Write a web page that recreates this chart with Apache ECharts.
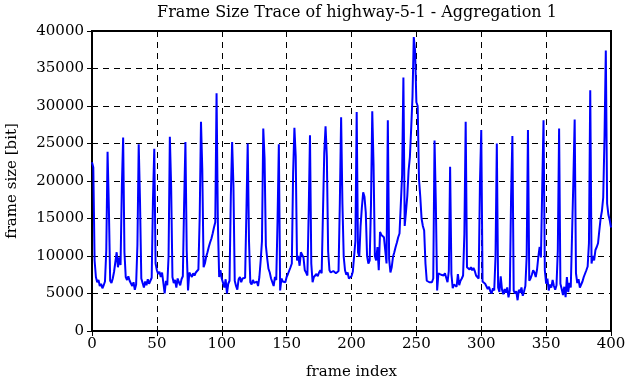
<!DOCTYPE html>
<html>
<head>
<meta charset="utf-8">
<script src="https://cdn.jsdelivr.net/npm/echarts@6/dist/echarts.min.js"></script>
<style>
  html, body { margin: 0; padding: 0; background: #fff; }
  #chart { width: 626px; height: 382px; }
</style>
</head>
<body>
<div id="chart"></div>
<script>
// frame sizes [bit], one line per GOP (12 frames)
var frameSizes = [
  22500, 21800, 9400, 7200, 6500, 6800, 6000, 6300, 5700, 6100, 6600, 10700,
  23900, 16400, 6700, 6400, 7000, 7900, 9200, 10500, 8500, 9800, 8800, 19200,
  25800, 10500, 7200, 6800, 7300, 6700, 6900, 6000, 6500, 5500, 6200, 11400,
  24900, 17300, 7000, 6400, 5800, 6600, 6100, 6900, 6300, 6700, 7100, 17600,
  24300, 9000, 8100, 7600, 7900, 7200, 7800, 8000, 5000, 6700, 6100, 9900,
  25900, 19200, 7200, 6400, 6800, 5800, 7000, 6500, 6100, 6900, 7300, 17000,
  25200, 10700, 5400, 7800, 7500, 7200, 7700, 7400, 7800, 7600, 8200, 15200,
  27900, 21500, 8500, 9000, 9900, 10500, 11200, 11800, 12300, 13000, 13800, 14500,
  31700, 14500, 7200, 8100, 7000, 6400, 5800, 6900, 5000, 6300, 6700, 18000,
  25200, 19400, 6700, 6000, 5500, 6900, 7200, 6500, 7000, 6800, 7100, 15900,
  25000, 12000, 6500, 6200, 6800, 6400, 6300, 6600, 6000, 7200, 9400, 12000,
  27000, 23000, 11400, 9700, 8300, 7800, 7000, 6500, 6000, 7200, 6800, 14700,
  24900, 5400, 7000, 6600, 6800, 6500, 7200, 7600, 7800, 8500, 9000, 21000,
  27100, 23300, 9400, 10000, 8700, 10500, 10700, 9800, 8100, 7800, 7400, 15700,
  26100, 9000, 6500, 7200, 7000, 7600, 7300, 7800, 8100, 7700, 7900, 23700,
  27300, 23200, 10600, 8100, 7800, 7700, 8000, 7900, 7700, 7600, 8000, 17000,
  28500, 17000, 9900, 8100, 7500, 7800, 7000, 6800, 7300, 7900, 8000, 12000,
  29200, 10500, 9900, 14000, 16500, 18500, 17900, 15800, 10000, 9000, 9400, 16700,
  29300, 22100, 10000, 9400, 11200, 8100, 13200, 12800, 13000, 12500, 12300, 9000,
  28100, 9600, 7800, 8500, 9900, 10500, 11200, 11800, 12500, 13000, 13200, 20800,
  33800, 14000, 15900, 18000, 21400, 23200, 27000, 31200, 39200, 37400, 30500, 30000,
  20300, 17900, 15000, 14000, 13400, 9000, 6700, 6600, 6500, 6600, 6500, 7000,
  25400, 17000, 5400, 7700, 7600, 7500, 7600, 7400, 7700, 7500, 6500, 8000,
  21900, 7600, 5700, 6200, 6400, 5900, 7600, 6100, 6700, 7000, 7400, 13000,
  27900, 8500, 8300, 8200, 8500, 8100, 8400, 8000, 7400, 7600, 7000, 19700,
  26800, 6600, 6700, 6300, 6100, 5600, 5900, 5300, 5000, 5700, 5400, 9900,
  25000, 5800, 5200, 7300, 5500, 4900, 5600, 5100, 5800, 4500, 5400, 17900,
  26000, 5400, 5000, 5300, 4100, 5500, 5100, 5800, 4700, 5300, 6000, 9900,
  26800, 6700, 7000, 7500, 8100, 7800, 7200, 8200, 9900, 11200, 9800, 19200,
  28100, 8100, 6300, 7000, 5400, 6200, 5800, 6800, 6000, 5500, 6100, 10700,
  27000, 6300, 5600, 4800, 5900, 4500, 7200, 5200, 6400, 5800, 6000, 20100,
  28200, 7700, 6400, 6900, 5800, 6200, 6600, 7200, 7000, 8100, 8600, 11700,
  32100, 9000, 10000, 9400, 10800, 11200, 11700, 13400, 15000, 16000, 17800, 25900,
  37400, 17000, 15500, 14800, 13800
];

var xTicks = [0, 50, 100, 150, 200, 250, 300, 350, 400];
var yTicks = [0, 5000, 10000, 15000, 20000, 25000, 30000, 35000, 40000];

var points = [];
for (var i = 0; i < frameSizes.length; i++) {
    points.push([i, frameSizes[i]]);
}

var font = 'DejaVu Serif';
var gridDash = {show: true, lineStyle: {color: '#000', width: 1, type: [6, 5]}};
var tick = {show: true, inside: true, length: 5, lineStyle: {color: '#000', width: 1}};

var myChart = echarts.init(document.getElementById('chart'));
var option = {
    animation: false,
    backgroundColor: '#fff',
    title: {
        text: 'Frame Size Trace of highway-5-1 - Aggregation 1',
        left: 352,
        textAlign: 'center',
        top: 0,
        textStyle: {fontFamily: font, fontSize: 16, fontWeight: 'normal', color: '#000'}
    },
    grid: {
        left: 92, right: 15, top: 31, bottom: 51,
        outerBoundsMode: 'none',
        containLabel: false,
        show: true, borderColor: '#000', borderWidth: 2
    },
    xAxis: [
        {
            type: 'value',
            min: xTicks[0], max: xTicks[xTicks.length - 1], interval: 50,
            name: 'frame index',
            nameLocation: 'middle',
            nameGap: 34,
            nameTextStyle: {fontFamily: font, fontSize: 15, color: '#000'},
            axisLine: {show: false},
            axisTick: tick,
            axisLabel: {fontFamily: font, fontSize: 15, color: '#000', margin: 6},
            splitLine: gridDash
        },
        {
            type: 'value', position: 'top',
            min: xTicks[0], max: xTicks[xTicks.length - 1], interval: 50,
            axisLine: {show: false},
            axisTick: tick,
            axisLabel: {show: false},
            splitLine: {show: false}
        }
    ],
    yAxis: [
        {
            type: 'value',
            min: yTicks[0], max: yTicks[yTicks.length - 1], interval: 5000,
            name: 'frame size [bit]',
            nameLocation: 'middle',
            nameGap: 72,
            nameTextStyle: {fontFamily: font, fontSize: 15, color: '#000'},
            axisLine: {show: false},
            axisTick: tick,
            axisLabel: {
                fontFamily: font, fontSize: 15, color: '#000', margin: 8,
                formatter: function (v) { return String(v); }
            },
            splitLine: gridDash
        },
        {
            type: 'value', position: 'right',
            min: yTicks[0], max: yTicks[yTicks.length - 1], interval: 5000,
            axisLine: {show: false},
            axisTick: tick,
            axisLabel: {show: false},
            splitLine: {show: false}
        }
    ],
    series: [
        {
            name: 'frame size',
            type: 'line',
            data: points,
            showSymbol: false,
            lineStyle: {color: '#0000ff', width: 2},
            z: 3
        }
    ]
};
myChart.setOption(option);
</script>
</body>
</html>
